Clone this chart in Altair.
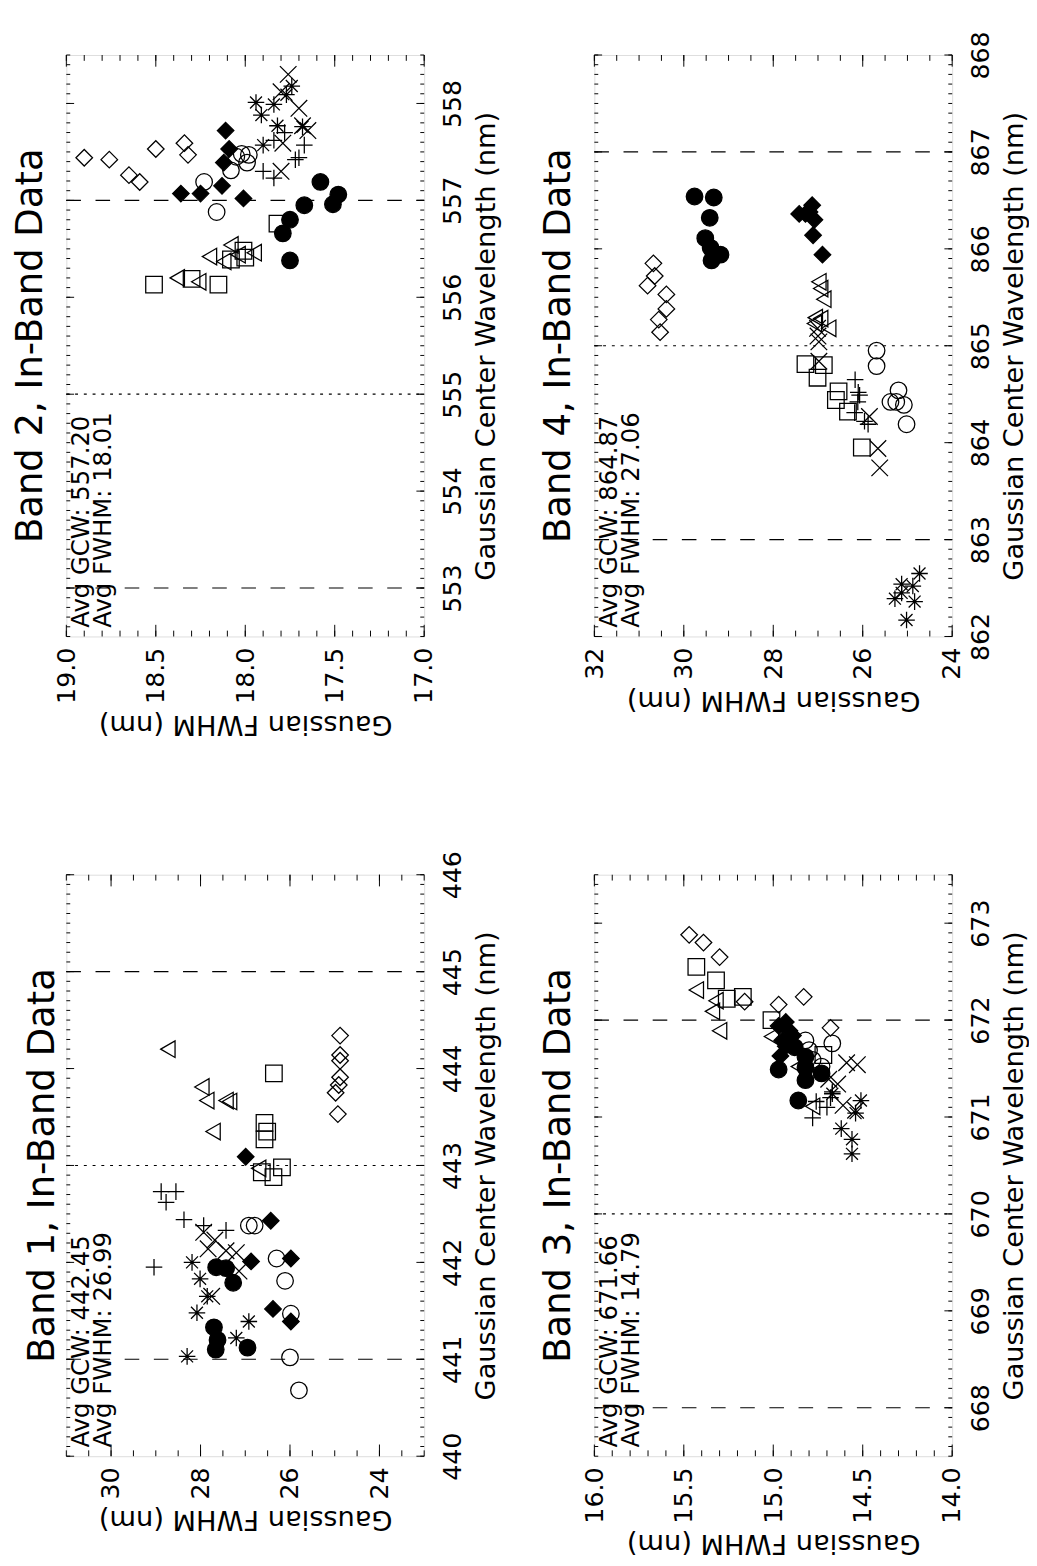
import altair as alt
import numpy as np
import pandas as pd

FONT = "DejaVu Sans"

SERIES = ["open_diamond", "filled_diamond", "open_circle", "filled_circle",
          "open_square", "open_triangle", "plus", "cross", "asterisk"]
SHAPES = ["diamond", "diamond", "circle", "circle", "square", "triangle-left",
          "M-1,0L1,0M0,-1L0,1",
          "M-1,-1L1,1M-1,1L1,-1",
          "M-1,0L1,0M0,-1L0,1M-0.72,-0.72L0.72,0.72M-0.72,0.72L0.72,-0.72"]
FILLS = ["transparent", "black", "transparent", "black", "transparent",
         "transparent", "transparent", "transparent", "transparent"]
SIZES = [290, 290, 200, 200, 256, 300, 289, 240, 324]

# ---------------- Band 1 ----------------
band1_gcw = {
    "open_diamond": [444.34, 444.14, 444.08, 443.91, 443.83, 443.75, 443.53],
    "filled_diamond": [443.09, 442.43, 442.01, 442.04, 441.52, 441.39],
    "open_circle": [442.38, 442.38, 442.04, 441.81, 441.47, 441.02, 440.68],
    "filled_circle": [441.95, 441.94, 441.79, 441.33, 441.20, 441.10, 441.12],
    "open_square": [443.95, 443.44, 443.35, 443.27, 442.98, 442.93, 442.88],
    "open_triangle": [444.20, 443.81, 443.67, 443.67, 443.66, 443.35, 442.97],
    "plus": [442.73, 442.73, 442.62, 442.44, 442.38, 442.33, 441.95],
    "cross": [442.31, 442.23, 442.14, 442.12, 442.10, 441.91, 441.65],
    "asterisk": [442.00, 441.83, 441.65, 441.48, 441.39, 441.03, 441.22],
}
band1_fwhm = {
    "open_diamond": [24.88, 24.88, 24.88, 24.88, 24.91, 24.98, 24.93],
    "filled_diamond": [26.99, 26.43, 26.87, 25.98, 26.38, 25.98],
    "open_circle": [26.92, 26.79, 26.30, 26.11, 25.98, 26.00, 25.80],
    "filled_circle": [27.65, 27.43, 27.27, 27.70, 27.62, 27.66, 26.95],
    "open_square": [26.36, 26.57, 26.51, 26.57, 26.18, 26.63, 26.37],
    "open_triangle": [28.73, 27.97, 27.86, 27.43, 27.35, 27.72, 26.70],
    "plus": [28.88, 28.55, 28.77, 28.37, 27.93, 27.43, 29.04],
    "cross": [27.93, 27.68, 27.83, 27.43, 27.20, 27.14, 27.75],
    "asterisk": [28.19, 28.01, 27.85, 28.08, 26.92, 28.30, 27.20],
}

# ---------------- Band 2 ----------------
band2_gcw = {
    "open_diamond": [557.44, 557.42, 557.53, 557.59, 557.47, 557.26, 557.19],
    "filled_diamond": [557.72, 557.53, 557.39, 557.15, 557.07, 557.07, 557.02],
    "open_circle": [557.47, 557.39, 557.31, 557.19, 556.88, 557.48, 557.45],
    "filled_circle": [557.19, 557.06, 556.96, 556.95, 556.80, 556.66, 556.38],
    "open_square": [556.76, 556.13, 556.19, 556.13, 556.48, 556.41, 556.39],
    "open_triangle": [556.20, 556.16, 556.42, 556.54, 556.46, 556.37, 556.44],
    "plus": [557.23, 557.44, 557.57, 557.62, 557.42, 557.70, 557.30],
    "cross": [557.59, 557.30, 557.77, 557.72, 558.30, 558.12, 557.95],
    "asterisk": [558.01, 557.99, 558.09, 558.18, 557.88, 557.77, 557.76, 557.57],
}
band2_fwhm = {
    "open_diamond": [18.90, 18.76, 18.50, 18.34, 18.32, 18.65, 18.59],
    "filled_diamond": [18.11, 18.09, 18.12, 18.13, 18.36, 18.25, 18.01],
    "open_circle": [17.98, 17.99, 18.08, 18.23, 18.16, 18.02, 18.05],
    "filled_circle": [17.58, 17.48, 17.51, 17.67, 17.75, 17.79, 17.75],
    "open_square": [17.82, 18.51, 18.30, 18.15, 18.01, 18.00, 18.08],
    "open_triangle": [18.38, 18.26, 18.20, 18.08, 17.95, 18.12, 18.04],
    "plus": [17.84, 17.70, 17.67, 17.84, 17.72, 17.78, 17.90],
    "cross": [17.79, 17.80, 17.68, 17.65, 17.76, 17.80, 17.70],
    "asterisk": [17.94, 17.84, 17.77, 17.74, 17.91, 17.82, 17.68, 17.90],
}

# ---------------- Band 3 ----------------
band3_gcw = {
    "open_diamond": [672.88, 672.80, 672.65, 672.19, 672.16, 672.24, 671.92],
    "filled_diamond": [671.98, 671.89, 671.84, 671.79, 671.73, 671.63, 671.94],
    "open_circle": [671.79, 671.76, 671.69, 671.59, 671.52],
    "filled_circle": [671.72, 671.62, 671.49, 671.45, 671.38, 671.51, 671.17],
    "open_square": [672.55, 672.41, 672.22, 672.24, 672.00, 671.64],
    "open_triangle": [672.31, 672.20, 672.09, 671.89, 671.83, 671.52, 671.11],
    "plus": [671.16, 671.10, 671.26, 670.99, 671.20],
    "cross": [671.56, 671.54, 671.34, 671.12, 671.07, 671.39],
    "asterisk": [671.17, 671.04, 670.88, 670.77, 670.62, 671.24],
}
band3_fwhm = {
    "open_diamond": [15.47, 15.39, 15.30, 15.16, 14.97, 14.83, 14.68],
    "filled_diamond": [14.93, 14.91, 14.89, 14.95, 14.93, 14.96, 14.97],
    "open_circle": [14.82, 14.67, 14.80, 14.78, 14.73],
    "filled_circle": [14.88, 14.82, 14.97, 14.73, 14.82, 14.82, 14.86],
    "open_square": [15.43, 15.32, 15.26, 15.17, 15.01, 14.72],
    "open_triangle": [15.43, 15.32, 15.34, 15.30, 15.01, 14.86, 14.78],
    "plus": [14.76, 14.70, 14.67, 14.78, 14.68],
    "cross": [14.59, 14.53, 14.64, 14.61, 14.54, 14.69],
    "asterisk": [14.51, 14.54, 14.62, 14.56, 14.56, 14.67],
}

# ---------------- Band 4 ----------------
band4_gcw = {
    "open_diamond": [865.85, 865.72, 865.62, 865.53, 865.38, 865.27, 865.14],
    "filled_diamond": [866.36, 866.45, 866.38, 866.30, 866.14, 865.94, 866.36],
    "open_circle": [864.95, 864.79, 864.54, 864.42, 864.39, 864.19, 864.42],
    "filled_circle": [866.54, 866.53, 866.32, 866.11, 866.01, 865.94, 865.88],
    "open_square": [864.81, 864.80, 864.67, 864.53, 864.44, 864.32, 863.95],
    "open_triangle": [865.66, 865.59, 865.48, 865.29, 865.28, 865.18, 865.23],
    "plus": [864.65, 864.49, 864.31, 864.22, 864.19, 864.42, 864.52],
    "cross": [865.18, 865.04, 864.84, 864.27, 863.94, 863.74, 865.10],
    "asterisk": [862.65, 862.54, 862.52, 862.39, 862.45, 862.36, 862.17],
}
band4_fwhm = {
    "open_diamond": [30.68, 30.65, 30.81, 30.39, 30.39, 30.56, 30.53],
    "filled_diamond": [27.42, 27.13, 27.19, 27.08, 27.11, 26.90, 27.28],
    "open_circle": [25.69, 25.69, 25.20, 25.38, 25.08, 25.02, 25.25],
    "filled_circle": [29.76, 29.33, 29.42, 29.52, 29.40, 29.18, 29.38],
    "open_square": [27.28, 26.87, 27.01, 26.54, 26.60, 26.33, 26.02],
    "open_triangle": [26.98, 26.94, 26.87, 27.06, 26.94, 26.76, 27.08],
    "plus": [26.17, 26.07, 26.18, 25.96, 25.88, 26.11, 26.10],
    "cross": [27.01, 26.98, 26.98, 25.85, 25.66, 25.62, 27.00],
    "asterisk": [24.73, 25.13, 24.88, 25.28, 25.13, 24.84, 25.02],
}

# axis / reference values
band1_wl_ticks = [440, 441, 442, 443, 444, 445, 446]
band1_fw_ticks = [30, 28, 26, 24]
band2_wl_ticks = [553, 554, 555, 556, 557, 558]
band2_fw_ticks = [19.0, 18.5, 18.0, 17.5, 17.0]
band3_wl_ticks = [668, 669, 670, 671, 672, 673]
band3_fw_ticks = [16.0, 15.5, 15.0, 14.5, 14.0]
band4_wl_ticks = [862, 863, 864, 865, 866, 867, 868]
band4_fw_ticks = [32, 30, 28, 26, 24]

band1_limits, band1_center = [441, 445], [443]
band2_limits, band2_center = [553, 557], [555]
band3_limits, band3_center = [668, 672], [670]
band4_limits, band4_center = [863, 867], [865]

band1_avg = ["Avg GCW:  442.45", "Avg FWHM:  26.99"]
band2_avg = ["Avg GCW:  557.20", "Avg FWHM:  18.01"]
band3_avg = ["Avg GCW:  671.66", "Avg FWHM:  14.79"]
band4_avg = ["Avg GCW:  864.87", "Avg FWHM:  27.06"]

W, H = 368, 598
LBL = 26
TTL = 28


def points_df(gcw, fwhm):
    rows = []
    for s in SERIES:
        for g, f in zip(gcw.get(s, []), fwhm.get(s, [])):
            rows.append({"series": s, "gcw": g, "fwhm": f})
    return pd.DataFrame(rows)


def steps(lo, hi, step):
    n = int(round((hi - lo) / step))
    return [round(lo + i * step, 3) for i in range(n + 1)]


def panel(title, gcw, fwhm, wl_dom, fw_dom, wl_ticks, fw_ticks, fw_minor,
          fw_fmt, limits, center, avg):
    ysc = alt.Scale(domain=wl_dom, nice=False, zero=False)
    xsc = alt.Scale(domain=fw_dom, nice=False, zero=False, reverse=True)
    xaxis = alt.Axis(orient="bottom", values=fw_ticks, format=fw_fmt,
                     labelAngle=270, labelAlign="right", labelBaseline="middle",
                     labelPadding=11, ticks=False, tickSize=0, domain=False,
                     grid=False, labelFlush=False, labelOverlap=False,
                     labelFont=FONT, labelFontSize=LBL, labelColor="black",
                     title="Gaussian FWHM (nm)", titleAngle=180,
                     titleBaseline="bottom", titlePadding=6, titleFont=FONT,
                     titleFontSize=TTL, titleFontWeight="normal",
                     titleColor="black")
    yaxis = alt.Axis(orient="right", values=wl_ticks, format="d",
                     labelAngle=270, labelAlign="center", labelBaseline="top",
                     labelPadding=16, ticks=False, tickSize=0, domain=False,
                     grid=False, labelFlush=False, labelOverlap=False,
                     labelFont=FONT, labelFontSize=LBL, labelColor="black",
                     title="Gaussian Center Wavelength (nm)", titleAngle=270,
                     titleBaseline="top", titlePadding=8, titleFont=FONT,
                     titleFontSize=TTL, titleFontWeight="normal",
                     titleColor="black")
    X = alt.X("fwhm:Q", scale=xsc, axis=xaxis)
    Y = alt.Y("gcw:Q", scale=ysc, axis=yaxis)

    wl_minor = steps(wl_dom[0], wl_dom[1], 0.1)
    fw_minor_v = steps(fw_dom[0], fw_dom[1], fw_minor)

    wl_min_df = pd.DataFrame({"gcw": wl_minor})
    wl_maj_df = pd.DataFrame({"gcw": list(wl_ticks)})
    fw_min_df = pd.DataFrame({"fwhm": fw_minor_v})
    fw_maj_df = pd.DataFrame({"fwhm": list(fw_ticks)})

    pts = points_df(gcw, fwhm)
    layers = [alt.Chart(pts).mark_point(opacity=1, stroke="black",
                                        strokeWidth=1.3)
              .encode(x=X, y=Y,
                      shape=alt.Shape("series:N", legend=None,
                                      scale=alt.Scale(domain=SERIES, range=SHAPES)),
                      fill=alt.Fill("series:N", legend=None,
                                    scale=alt.Scale(domain=SERIES, range=FILLS)),
                      size=alt.Size("series:N", legend=None,
                                    scale=alt.Scale(domain=SERIES, range=SIZES)))]
    # tick marks, drawn inward on all four sides
    for df, ln in ((wl_min_df, 4), (wl_maj_df, 8)):
        layers.append(alt.Chart(df).mark_rule(color="black", strokeWidth=1)
                      .encode(y=Y, x=alt.value(0), x2=alt.value(ln)))
        layers.append(alt.Chart(df).mark_rule(color="black", strokeWidth=1)
                      .encode(y=Y, x=alt.value(W), x2=alt.value(W - ln)))
    for df, ln in ((fw_min_df, 6), (fw_maj_df, 12)):
        layers.append(alt.Chart(df).mark_rule(color="black", strokeWidth=1)
                      .encode(x=X, y=alt.value(H), y2=alt.value(H - ln)))
        layers.append(alt.Chart(df).mark_rule(color="black", strokeWidth=1)
                      .encode(x=X, y=alt.value(0), y2=alt.value(ln)))
    # reference lines
    layers.append(alt.Chart(pd.DataFrame({"gcw": limits}))
                  .mark_rule(color="black", strokeWidth=1.2, strokeDash=[15, 15])
                  .encode(y=Y, x=alt.value(0), x2=alt.value(W)))
    layers.append(alt.Chart(pd.DataFrame({"gcw": center}))
                  .mark_rule(color="black", strokeWidth=1.2, strokeDash=[3, 6])
                  .encode(y=Y, x=alt.value(0), x2=alt.value(W)))
    # average annotations
    for i, txt in enumerate(avg):
        layers.append(alt.Chart(pd.DataFrame({"t": [txt]}))
                      .mark_text(angle=270, align="left", baseline="alphabetic",
                                 font=FONT, fontSize=25, color="black")
                      .encode(text="t:N", x=alt.value(23 + 23 * i),
                              y=alt.value(H - 9)))
    return alt.layer(*layers).properties(
        width=W, height=H,
        title=alt.TitleParams(text=title, orient="left", anchor="middle",
                              font=FONT, fontSize=38, fontWeight="normal",
                              color="black", offset=4))


p1 = panel("Band 1, In-Band Data", band1_gcw, band1_fwhm, [440, 446], [23, 31],
           band1_wl_ticks, band1_fw_ticks, 0.5, "d", band1_limits, band1_center, band1_avg)
p2 = panel("Band 2, In-Band Data", band2_gcw, band2_fwhm, [552.5, 558.5], [17, 19],
           band2_wl_ticks, band2_fw_ticks, 0.1, ".1f", band2_limits, band2_center, band2_avg)
p3 = panel("Band 3, In-Band Data", band3_gcw, band3_fwhm, [667.5, 673.5], [14, 16],
           band3_wl_ticks, band3_fw_ticks, 0.1, ".1f", band3_limits, band3_center, band3_avg)
p4 = panel("Band 4, In-Band Data", band4_gcw, band4_fwhm, [862, 868], [24, 32],
           band4_wl_ticks, band4_fw_ticks, 0.5, "d", band4_limits, band4_center, band4_avg)

top = alt.hconcat(p2, p4, spacing=40)
bottom = alt.hconcat(p1, p3, spacing=40)
chart = alt.vconcat(top, bottom, spacing=115).properties(
    padding={"left": 4, "top": 0, "right": 0, "bottom": 2}
).configure_view(stroke="black", strokeWidth=1.3).configure(background="white")

chart.save("out.html", embed_options={"renderer": "svg", "actions": False})
